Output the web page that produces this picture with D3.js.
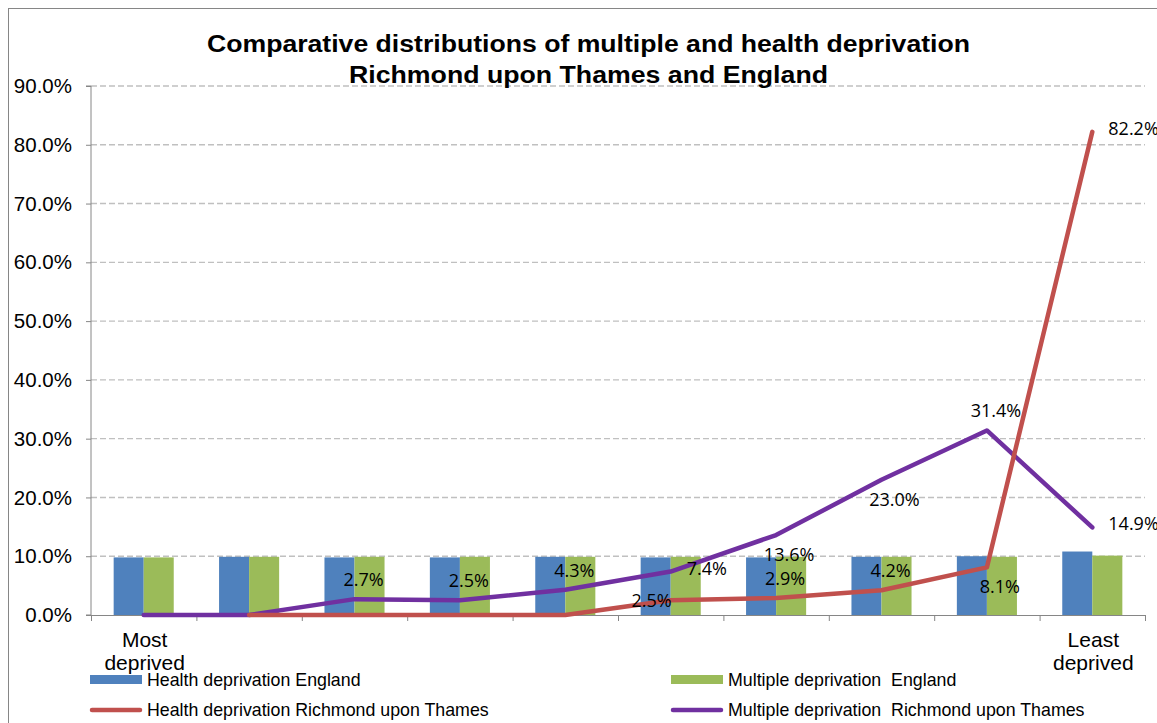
<!DOCTYPE html>
<html>
<head>
<meta charset="utf-8">
<script src="https://cdn.jsdelivr.net/npm/d3@7"></script>
<style>
  html, body { margin: 0; padding: 0; background: #fff; }
  svg { display: block; }
  text { font-family: "Liberation Sans", Arial, sans-serif; fill: #000; }
</style>
</head>
<body>
<svg id="chart" width="1157" height="723"></svg>
<script>
// Deciles of deprivation, most deprived (1) to least deprived (10)
const deciles = [1, 2, 3, 4, 5, 6, 7, 8, 9, 10];
const decileLabels = [["Most", "deprived"], [], [], [], [], [], [], [], [], ["Least", "deprived"]];

// Share of areas in each decile (%)
const healthEngland   = [9.8, 9.9, 9.8, 9.8, 9.9, 9.8, 9.8, 9.9, 10.0, 10.8];
const multipleEngland = [9.8, 9.9, 9.9, 9.9, 9.9, 9.9, 9.9, 9.9, 9.9, 10.1];
const healthRichmond   = [null, 0, 0, 0, 0, 2.5, 2.9, 4.2, 8.1, 82.2];
const multipleRichmond = [0, 0, 2.7, 2.5, 4.3, 7.4, 13.6, 23.0, 31.4, 14.9];

// Where each data label sits relative to its point
const healthRichmondLabelSide   = [null, null, null, null, null, "left", "above", "above", "below", "right"];
const multipleRichmondLabelSide = [null, null, "above", "above", "above", "right", "below", "below", "above", "right"];

const yTicks = [0, 10, 20, 30, 40, 50, 60, 70, 80, 90];

const titleLines = ["Comparative distributions of multiple and health deprivation",
                    "Richmond upon Thames and England"];

const colors = {
  healthEngland: "#4F81BD",
  multipleEngland: "#9BBB59",
  healthRichmond: "#C0504D",
  multipleRichmond: "#7030A0"
};

const svg = d3.select("#chart");
const plot = { left: 91, right: 1145, top: 86, bottom: 615 };
const axisColor = "#868686";

// Outer chart frame
svg.append("rect")
  .attr("x", 8.5).attr("y", 8.5)
  .attr("width", 1300).attr("height", 900)
  .attr("fill", "none").attr("stroke", axisColor).attr("stroke-width", 1);

const y = d3.scaleLinear().domain([0, 90]).range([plot.bottom, plot.top]);
const x = d3.scaleBand().domain(deciles).range([plot.left, plot.right])
  .paddingInner(0.43).paddingOuter(0.215);
const xSub = d3.scaleBand().domain(["health", "multiple"]).range([0, x.bandwidth()]);
const xEdges = d3.scaleLinear().domain([0, deciles.length]).range([plot.left, plot.right]);
const xCenter = d => x(d) + x.bandwidth() / 2;

// Dashed gridlines
svg.append("g").selectAll("line")
  .data(yTicks.filter(t => t > 0))
  .join("line")
  .attr("x1", plot.left).attr("x2", plot.right)
  .attr("y1", d => y(d)).attr("y2", d => y(d))
  .attr("stroke", "#C0C0C0").attr("stroke-width", 1.4)
  .attr("stroke-dasharray", "6,3");

// Bars for England
const barGroups = svg.append("g");
barGroups.selectAll("rect.he")
  .data(deciles.map((d, i) => ({ d, v: healthEngland[i] })))
  .join("rect").attr("class", "he")
  .attr("x", p => x(p.d) + xSub("health"))
  .attr("width", xSub.bandwidth())
  .attr("y", p => y(p.v))
  .attr("height", p => y(0) - y(p.v))
  .attr("fill", colors.healthEngland);
barGroups.selectAll("rect.me")
  .data(deciles.map((d, i) => ({ d, v: multipleEngland[i] })))
  .join("rect").attr("class", "me")
  .attr("x", p => x(p.d) + xSub("multiple"))
  .attr("width", xSub.bandwidth())
  .attr("y", p => y(p.v))
  .attr("height", p => y(0) - y(p.v))
  .attr("fill", colors.multipleEngland);

// Y axis
const yAxis = svg.append("g")
  .attr("transform", `translate(${plot.left},0)`)
  .call(d3.axisLeft(y).tickValues(yTicks).tickSize(5).tickPadding(14)
    .tickFormat(d => d3.format(".1f")(d) + "%"));
yAxis.selectAll("path, line").attr("stroke", axisColor);
yAxis.select(".domain").attr("d", `M-5,${plot.top}H0V${plot.bottom}H-5`);
yAxis.selectAll("text")
  .style("font-family", '"Liberation Sans", Arial, sans-serif')
  .style("font-size", "20.5px").attr("fill", "#000");

// X axis with ticks at decile boundaries
const xAxis = svg.append("g")
  .attr("transform", `translate(0,${plot.bottom})`)
  .call(d3.axisBottom(xEdges).tickValues(d3.range(0, deciles.length + 1))
    .tickSize(6).tickSizeOuter(0).tickFormat(""));
xAxis.selectAll("path, line").attr("stroke", axisColor);

// Decile labels
const catLabels = svg.append("g");
deciles.forEach((d, i) => {
  decileLabels[i].forEach((line, j) => {
    catLabels.append("text")
      .attr("x", xCenter(d) + 1)
      .attr("y", 647 + j * 23)
      .attr("text-anchor", "middle")
      .style("font-size", "21px")
      .text(line);
  });
});

// Richmond lines
const line = d3.line()
  .defined(p => p.v !== null)
  .x(p => xCenter(p.d))
  .y(p => y(p.v));

const seriesLines = [
  { key: "multipleRichmond", values: multipleRichmond, sides: multipleRichmondLabelSide },
  { key: "healthRichmond", values: healthRichmond, sides: healthRichmondLabelSide }
];

seriesLines.forEach(s => {
  svg.append("path")
    .datum(deciles.map((d, i) => ({ d, v: s.values[i] })))
    .attr("fill", "none")
    .attr("stroke", colors[s.key])
    .attr("stroke-width", 4.5)
    .attr("stroke-linejoin", "round")
    .attr("stroke-linecap", "round")
    .attr("d", line);
});

// Data labels
const labelFmt = v => d3.format(".1f")(v) + "%";
const labelLayer = svg.append("g");
seriesLines.forEach(s => {
  deciles.forEach((d, i) => {
    const side = s.sides[i];
    if (!side) return;
    const px = xCenter(d), py = y(s.values[i]);
    let tx = px, ty = py, anchor = "middle";
    if (side === "above") { tx = px + 9; ty = py - 20; }
    else if (side === "below") { tx = px + 13; ty = py + 19; }
    else if (side === "right") { tx = px + 16; ty = py - 4; anchor = "start"; }
    else if (side === "left") { tx = px + 1; ty = py; anchor = "end"; }
    labelLayer.append("text")
      .attr("x", tx).attr("y", ty)
      .attr("text-anchor", anchor)
      .attr("dominant-baseline", "central")
      .style("font-family", '"Open Sans", "Noto Sans", sans-serif')
      .style("font-size", "18px")
      .text(labelFmt(s.values[i]));
  });
});

// Title
const titleX = [207, 349];
const titleW = [763, 479];
titleLines.forEach((t, i) => {
  svg.append("text")
    .attr("x", titleX[i]).attr("y", 52 + i * 31)
    .attr("textLength", titleW[i])
    .attr("lengthAdjust", "spacingAndGlyphs")
    .style("font-size", "23px").style("font-weight", "bold")
    .text(t);
});

// Legend
const legendItems = [
  { key: "healthEngland", label: "Health deprivation England", type: "bar", col: 0, row: 0 },
  { key: "multipleEngland", label: "Multiple deprivation  England", type: "bar", col: 1, row: 0 },
  { key: "healthRichmond", label: "Health deprivation Richmond upon Thames", type: "line", col: 0, row: 1 },
  { key: "multipleRichmond", label: "Multiple deprivation  Richmond upon Thames", type: "line", col: 1, row: 1 }
];
const legendCols = [90, 671];
const legendRows = [679.5, 710];
const legend = svg.append("g");
legendItems.forEach(it => {
  const lx = legendCols[it.col], ly = legendRows[it.row];
  if (it.type === "bar") {
    legend.append("rect")
      .attr("x", lx).attr("y", ly - 4.5)
      .attr("width", 52).attr("height", 9)
      .attr("fill", colors[it.key]);
  } else {
    legend.append("line")
      .attr("x1", lx + 2).attr("x2", lx + 50)
      .attr("y1", ly).attr("y2", ly)
      .attr("stroke", colors[it.key]).attr("stroke-width", 4.5)
      .attr("stroke-linecap", "round");
  }
  legend.append("text")
    .attr("x", lx + 57).attr("y", ly + 6)
    .attr("xml:space", "preserve")
    .style("white-space", "pre")
    .style("font-size", "17.8px")
    .text(it.label);
});
</script>
</body>
</html>
